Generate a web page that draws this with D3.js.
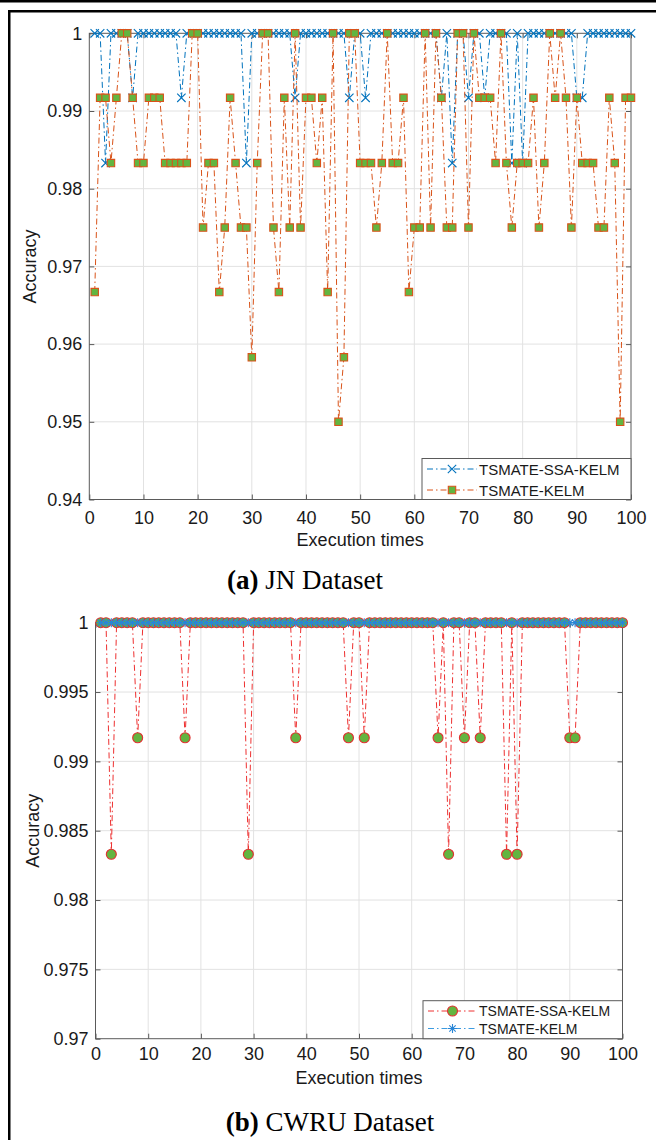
<!DOCTYPE html>
<html>
<head>
<meta charset="utf-8">
<script src="https://cdn.jsdelivr.net/npm/d3@7"></script>
<style>
  html, body { margin: 0; padding: 0; background: #fff; }
  svg { display: block; }
</style>
</head>
<body>
<svg id="fig" width="656" height="1140"></svg>
<script>
// --- data ---
const executions = d3.range(1, 101);
const xTicks = [0, 10, 20, 30, 40, 50, 60, 70, 80, 90, 100];
const jnYTicks = [0.94, 0.95, 0.96, 0.97, 0.98, 0.99, 1];
const cwruYTicks = [0.97, 0.975, 0.98, 0.985, 0.99, 0.995, 1];
const seriesNames = ["TSMATE-SSA-KELM", "TSMATE-KELM"];
const captions = [["(a)", " JN Dataset"], ["(b)", " CWRU Dataset"]];

const jnSsaKelm = [
  1, 1, 0.9833, 1, 1, 1, 1, 0.9917, 1, 1,
  1, 1, 1, 1, 1, 1, 0.9917, 1, 1, 1,
  1, 1, 1, 1, 1, 1, 1, 1, 0.9833, 1,
  1, 1, 1, 1, 1, 1, 1, 0.9917, 1, 1,
  1, 1, 1, 1, 1, 1, 1, 0.9917, 1, 1,
  0.9917, 1, 1, 1, 1, 1, 1, 1, 1, 1,
  1, 1, 1, 1, 0.9917, 1, 0.9833, 1, 1, 0.9917,
  1, 1, 0.9917, 1, 1, 1, 1, 0.9833, 1, 0.9833,
  1, 1, 1, 1, 1, 1, 1, 1, 1, 0.9917,
  0.9917, 1, 1, 1, 1, 1, 1, 1, 1, 1
];
const jnKelm = [
  0.9667, 0.9917, 0.9917, 0.9833, 0.9917, 1, 1, 0.9917, 0.9833, 0.9833,
  0.9917, 0.9917, 0.9917, 0.9833, 0.9833, 0.9833, 0.9833, 0.9833, 1, 1,
  0.975, 0.9833, 0.9833, 0.9667, 0.975, 0.9917, 0.9833, 0.975, 0.975, 0.9583,
  0.9833, 1, 1, 0.975, 0.9667, 0.9917, 0.975, 1, 0.975, 0.9917,
  0.9917, 0.9833, 0.9917, 0.9667, 1, 0.95, 0.9583, 1, 1, 0.9833,
  0.9833, 0.9833, 0.975, 0.9833, 1, 0.9833, 0.9833, 0.9917, 0.9667, 0.975,
  0.975, 1, 0.975, 1, 0.9917, 0.975, 0.975, 1, 1, 0.975,
  1, 0.9917, 0.9917, 0.9917, 0.9833, 1, 0.9833, 0.975, 0.9833, 0.9833,
  0.9833, 0.9917, 0.975, 0.9833, 1, 0.9917, 1, 0.9917, 0.975, 0.9917,
  0.9833, 0.9833, 0.9833, 0.975, 0.975, 0.9917, 0.9833, 0.95, 0.9917, 0.9917
];
const cwruSsaKelm = [
  1, 1, 0.9833, 1, 1, 1, 1, 0.9917, 1, 1,
  1, 1, 1, 1, 1, 1, 0.9917, 1, 1, 1,
  1, 1, 1, 1, 1, 1, 1, 1, 0.9833, 1,
  1, 1, 1, 1, 1, 1, 1, 0.9917, 1, 1,
  1, 1, 1, 1, 1, 1, 1, 0.9917, 1, 1,
  0.9917, 1, 1, 1, 1, 1, 1, 1, 1, 1,
  1, 1, 1, 1, 0.9917, 1, 0.9833, 1, 1, 0.9917,
  1, 1, 0.9917, 1, 1, 1, 1, 0.9833, 1, 0.9833,
  1, 1, 1, 1, 1, 1, 1, 1, 1, 0.9917,
  0.9917, 1, 1, 1, 1, 1, 1, 1, 1, 1
];
const cwruKelm = [
  1, 1, 1, 1, 1, 1, 1, 1, 1, 1,
  1, 1, 1, 1, 1, 1, 1, 1, 1, 1,
  1, 1, 1, 1, 1, 1, 1, 1, 1, 1,
  1, 1, 1, 1, 1, 1, 1, 1, 1, 1,
  1, 1, 1, 1, 1, 1, 1, 1, 1, 1,
  1, 1, 1, 1, 1, 1, 1, 1, 1, 1,
  1, 1, 1, 1, 1, 1, 1, 1, 1, 1,
  1, 1, 1, 1, 1, 1, 1, 1, 1, 1,
  1, 1, 1, 1, 1, 1, 1, 1, 1, 1,
  1, 1, 1, 1, 1, 1, 1, 1, 1, 1
];

// --- styling ---
const sans = "'Liberation Sans', Arial, Helvetica, sans-serif";
const serif = "'Liberation Serif', 'Times New Roman', serif";
const textColor = "#1a1a1a";
const axisColor = "#5a5a5a";
const gridColor = "#e2e2e2";
const green = "#62b540";
const dashDot = "6,3,1.5,3";
const axisFont = 18;

const markerPaths = {
  x: "M-4.2,-4.2L4.2,4.2M-4.2,4.2L4.2,-4.2",
  star: "M-4.5,0H4.5M0,-4.5V4.5M-3.2,-3.2L3.2,3.2M-3.2,3.2L3.2,-3.2",
  square: "M-3.7,-3.7H3.7V3.7H-3.7Z",
  circle: d3.symbol(d3.symbolCircle, Math.PI * 25)()
};

const svg = d3.select("#fig");

// page frame lines
svg.append("rect").attr("x", 0).attr("y", 0).attr("width", 656).attr("height", 2.5).attr("fill", "#000");
svg.append("rect").attr("x", 8).attr("y", 10).attr("width", 648).attr("height", 2.5).attr("fill", "#000");
svg.append("rect").attr("x", 8).attr("y", 10).attr("width", 2.5).attr("height", 1130).attr("fill", "#000");

function drawPanel(cfg) {
  const x = d3.scaleLinear().domain([0, 100]).range([cfg.left, cfg.right]);
  const y = d3.scaleLinear().domain(cfg.yDomain).range([cfg.bottom, cfg.top]);
  const g = svg.append("g");
  const w = cfg.right - cfg.left;
  const h = cfg.bottom - cfg.top;

  // grid
  g.append("g").selectAll("line").data(xTicks.slice(1, -1)).join("line")
    .attr("x1", (d) => x(d)).attr("x2", (d) => x(d))
    .attr("y1", cfg.top).attr("y2", cfg.bottom)
    .attr("stroke", gridColor).attr("stroke-width", 1);
  g.append("g").selectAll("line").data(cfg.yTicks.slice(1, -1)).join("line")
    .attr("x1", cfg.left).attr("x2", cfg.right)
    .attr("y1", (d) => y(d)).attr("y2", (d) => y(d))
    .attr("stroke", gridColor).attr("stroke-width", 1);

  // axes, ticks pointing inward on all four sides
  const styleAxis = (sel) => {
    sel.select(".domain").remove();
    sel.selectAll("line").attr("stroke", axisColor);
    sel.selectAll("text").attr("fill", textColor).attr("font-size", axisFont).attr("font-family", sans);
  };
  g.append("g").attr("transform", `translate(0,${cfg.bottom})`)
    .call(d3.axisBottom(x).tickValues(xTicks).tickSize(-5).tickPadding(cfg.xPad).tickFormat(d3.format("d")))
    .call(styleAxis);
  g.append("g").attr("transform", `translate(0,${cfg.top})`)
    .call(d3.axisTop(x).tickValues(xTicks).tickSize(-5).tickFormat(""))
    .call(styleAxis);
  g.append("g").attr("transform", `translate(${cfg.left},0)`)
    .call(d3.axisLeft(y).tickValues(cfg.yTicks).tickSize(-5).tickPadding(cfg.yPad).tickFormat((d) => String(+d.toFixed(3))))
    .call(styleAxis);
  g.append("g").attr("transform", `translate(${cfg.right},0)`)
    .call(d3.axisRight(y).tickValues(cfg.yTicks).tickSize(-5).tickFormat(""))
    .call(styleAxis);
  g.append("rect")
    .attr("x", cfg.left).attr("y", cfg.top).attr("width", w).attr("height", h)
    .attr("fill", "none").attr("stroke", axisColor).attr("stroke-width", 1);

  // axis labels
  g.append("text")
    .attr("x", (cfg.left + cfg.right) / 2).attr("y", cfg.xLabelY)
    .attr("text-anchor", "middle").attr("dominant-baseline", "central")
    .attr("fill", textColor).attr("font-size", axisFont).attr("font-family", sans)
    .text("Execution times");
  g.append("text")
    .attr("transform", `translate(${cfg.yLabelX},${(cfg.top + cfg.bottom) / 2}) rotate(-90)`)
    .attr("text-anchor", "middle").attr("dominant-baseline", "central")
    .attr("fill", textColor).attr("font-size", axisFont).attr("font-family", sans)
    .text("Accuracy");

  // series
  const line = d3.line().x((d, i) => x(executions[i])).y((d) => y(d));
  cfg.series.forEach((s) => {
    g.append("path").datum(s.values)
      .attr("d", line)
      .attr("fill", "none").attr("stroke", s.line).attr("stroke-width", 1)
      .attr("stroke-dasharray", dashDot);
    g.append("g").selectAll("path").data(s.values).join("path")
      .attr("d", markerPaths[s.marker])
      .attr("transform", (d, i) => `translate(${x(executions[i])},${y(d)})`)
      .attr("fill", s.fill).attr("stroke", s.edge).attr("stroke-width", 1.1);
  });

  // legend
  const lg = g.append("g");
  lg.append("rect")
    .attr("x", cfg.legend.x).attr("y", cfg.legend.y)
    .attr("width", cfg.legend.w).attr("height", cfg.legend.h)
    .attr("fill", "#fff").attr("stroke", axisColor).attr("stroke-width", 1);
  cfg.series.forEach((s, i) => {
    const ry = cfg.legend.rows[i];
    const x0 = cfg.legend.x + 5;
    const x1 = x0 + cfg.legend.sample;
    lg.append("line").attr("x1", x0).attr("x2", x1).attr("y1", ry).attr("y2", ry)
      .attr("stroke", s.line).attr("stroke-width", 1).attr("stroke-dasharray", dashDot);
    lg.append("path").attr("d", markerPaths[s.marker])
      .attr("transform", `translate(${(x0 + x1) / 2},${ry})`)
      .attr("fill", s.fill).attr("stroke", s.edge).attr("stroke-width", 1.1);
    lg.append("text").attr("x", x1 + 2).attr("y", ry)
      .attr("dominant-baseline", "central")
      .attr("fill", textColor).attr("font-size", cfg.legend.font).attr("font-family", sans)
      .text(seriesNames[i]);
  });

  // caption
  const cap = svg.append("text")
    .attr("x", cfg.captionX).attr("y", cfg.captionY)
    .attr("text-anchor", "middle").attr("dominant-baseline", "central")
    .attr("fill", "#000").attr("font-size", 27).attr("font-family", serif);
  cap.append("tspan").attr("font-weight", "bold").text(cfg.caption[0]);
  cap.append("tspan").text(cfg.caption[1]);
}

drawPanel({
  left: 89.3, right: 631, top: 33.3, bottom: 499.5,
  yDomain: [0.94, 1], yTicks: jnYTicks,
  xPad: 12, yPad: 7, xLabelY: 540, yLabelX: 30,
  series: [
    { values: jnSsaKelm, line: "#0072bd", marker: "x", fill: "none", edge: "#0072bd" },
    { values: jnKelm, line: "#d95319", marker: "square", fill: green, edge: "#d95319" }
  ],
  legend: { x: 422, y: 458.5, w: 209, h: 41, rows: [469, 490], sample: 50, font: 15 },
  caption: captions[0], captionX: 305, captionY: 580
});

drawPanel({
  left: 95.5, right: 622.5, top: 622.7, bottom: 1038.7,
  yDomain: [0.97, 1], yTicks: cwruYTicks,
  xPad: 9, yPad: 7, xLabelY: 1078, yLabelX: 33,
  series: [
    { values: cwruSsaKelm, line: "#ee3030", marker: "circle", fill: green, edge: "#e03030" },
    { values: cwruKelm, line: "#3d9be0", marker: "star", fill: "none", edge: "#2a86d6" }
  ],
  legend: { x: 423, y: 1000.7, w: 199.5, h: 38, rows: [1011, 1028.5], sample: 49, font: 14 },
  caption: captions[1], captionX: 330, captionY: 1122
});
</script>
</body>
</html>
